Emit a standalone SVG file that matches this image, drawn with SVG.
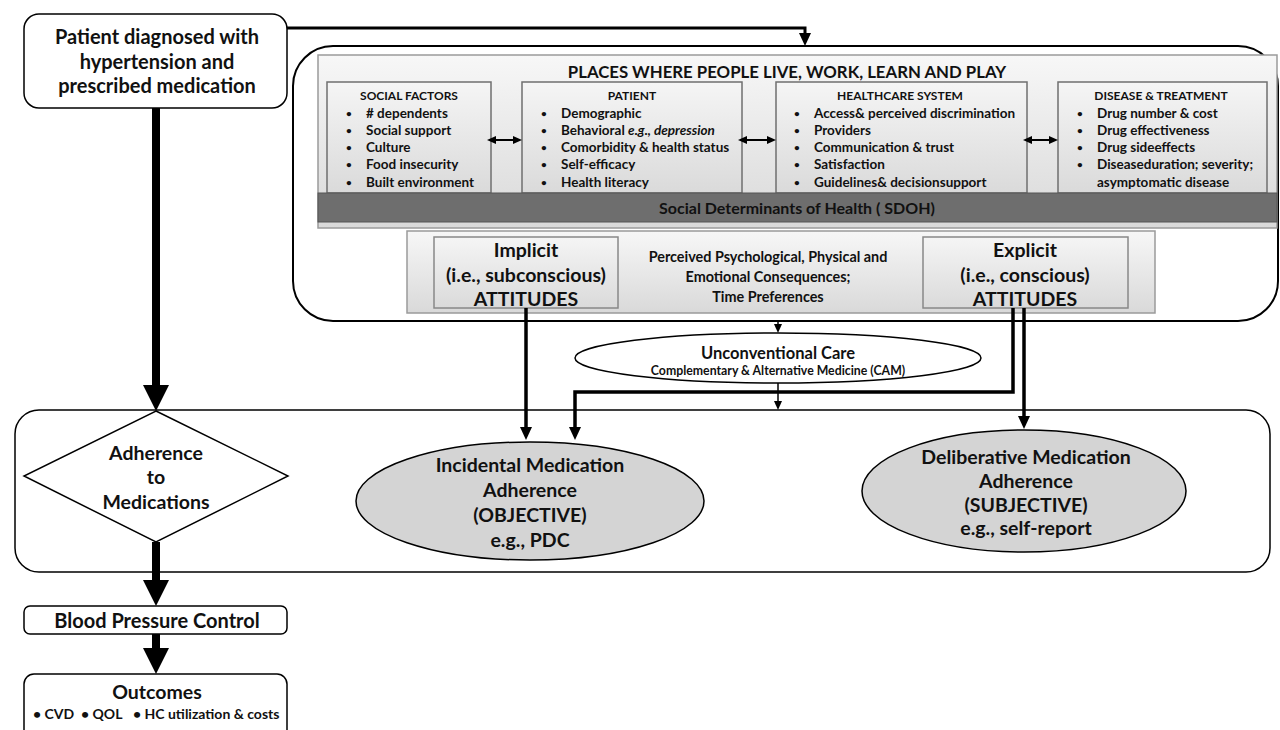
<svg xmlns="http://www.w3.org/2000/svg" width="1280" height="730" viewBox="0 0 1280 730">
<defs>
<linearGradient id="gPanel" x1="0" y1="0" x2="0" y2="1"><stop offset="0" stop-color="#f7f7f7"/><stop offset="1" stop-color="#d9d9d9"/></linearGradient>
<linearGradient id="gBox" x1="0" y1="0" x2="0" y2="1"><stop offset="0" stop-color="#f5f5f5"/><stop offset="1" stop-color="#dadada"/></linearGradient>
<marker id="ahBig" markerUnits="userSpaceOnUse" markerWidth="26" markerHeight="26" refX="0" refY="13" orient="auto" viewBox="0 0 26 26"><path d="M0,0 L26,13 L0,26 z" fill="#000"/></marker>
<marker id="ahMed" markerUnits="userSpaceOnUse" markerWidth="14" markerHeight="14" refX="0" refY="7" orient="auto" viewBox="0 0 14 14"><path d="M0,1 L13,7 L0,13 z" fill="#000"/></marker>
<marker id="ahSm" markerUnits="userSpaceOnUse" markerWidth="10" markerHeight="10" refX="0" refY="5" orient="auto" viewBox="0 0 10 10"><path d="M0,1 L9,5 L0,9 z" fill="#000"/></marker>
<marker id="ahDblS" markerUnits="userSpaceOnUse" markerWidth="10" markerHeight="10" refX="0" refY="5" orient="auto-start-reverse" viewBox="0 0 10 10"><path d="M0,1 L9,5 L0,9 z" fill="#000"/></marker>
</defs>
<style>
text{font-family:Lato,"Liberation Sans",sans-serif;font-weight:bold;fill:#111;}
.c{text-anchor:middle;}
.big{font-size:20px;}
.att{font-size:19.5px;}
.hdr{font-size:12px;}
.it{font-size:13.5px;}
.bul{font-size:10px;}
.mid{font-size:14.4px;}
.box{fill:#fff;stroke:#000;stroke-width:1.5;}
.cat{fill:url(#gBox);stroke:#6f6f6f;stroke-width:1.5;}
.ell{fill:#d4d4d4;stroke:#000;stroke-width:1.5;}
.conn{fill:none;stroke:#000;}
</style>

<!-- Containers -->
<g id="places-container">
<rect x="293" y="46" width="985" height="275" rx="40" ry="40" fill="#fff" stroke="#000" stroke-width="2"/>
<rect x="318" y="55" width="959" height="173" fill="url(#gPanel)" stroke="#9a9a9a" stroke-width="1.5"/>
<text class="c" x="787" y="78" style="font-size:16.8px">PLACES WHERE PEOPLE LIVE, WORK, LEARN AND PLAY</text>
</g>

<g id="adherence-container">
<rect x="15" y="410" width="1255" height="162" rx="24" ry="24" fill="#fff" stroke="#000" stroke-width="1.5"/>
</g>

<!-- Top-left node -->
<g id="patient-diagnosed">
<rect class="box" x="24" y="14" width="263" height="94" rx="15" ry="15"/>
<text class="c big" x="157" y="44">Patient diagnosed with</text>
<text class="c big" x="157" y="69">hypertension and</text>
<text class="c big" x="157" y="93">prescribed medication</text>
</g>

<!-- Category boxes -->
<g id="social-factors">
<rect class="cat" x="327" y="82" width="164" height="111"/>
<text class="c hdr" x="409" y="100">SOCIAL FACTORS</text>
<g>
<text class="bul" x="346" y="117">•</text><text class="it" x="366" y="118"># dependents</text>
<text class="bul" x="346" y="134">•</text><text class="it" x="366" y="135">Social support</text>
<text class="bul" x="346" y="151">•</text><text class="it" x="366" y="152">Culture</text>
<text class="bul" x="346" y="168">•</text><text class="it" x="366" y="169">Food insecurity</text>
<text class="bul" x="346" y="186">•</text><text class="it" x="366" y="187">Built environment</text>
</g>
</g>

<g id="patient">
<rect class="cat" x="522" y="82" width="220" height="111"/>
<text class="c hdr" x="632" y="100">PATIENT</text>
<g>
<text class="bul" x="541" y="117">•</text><text class="it" x="561" y="118">Demographic</text>
<text class="bul" x="541" y="134">•</text><text class="it" x="561" y="135">Behavioral <tspan font-style="italic">e.g., depression</tspan></text>
<text class="bul" x="541" y="151">•</text><text class="it" x="561" y="152">Comorbidity &amp; health status</text>
<text class="bul" x="541" y="168">•</text><text class="it" x="561" y="169">Self-efficacy</text>
<text class="bul" x="541" y="186">•</text><text class="it" x="561" y="187">Health literacy</text>
</g>
</g>

<g id="healthcare-system">
<rect class="cat" x="776" y="82" width="251" height="111"/>
<text class="c hdr" x="900" y="100">HEALTHCARE SYSTEM</text>
<g>
<text class="bul" x="794" y="117">•</text><text class="it" x="814" y="118">Access&amp; perceived discrimination</text>
<text class="bul" x="794" y="134">•</text><text class="it" x="814" y="135">Providers</text>
<text class="bul" x="794" y="151">•</text><text class="it" x="814" y="152">Communication &amp; trust</text>
<text class="bul" x="794" y="168">•</text><text class="it" x="814" y="169">Satisfaction</text>
<text class="bul" x="794" y="186">•</text><text class="it" x="814" y="187">Guidelines&amp; decisionsupport</text>
</g>
</g>

<g id="disease-treatment">
<rect class="cat" x="1058" y="82" width="209" height="111"/>
<text class="c hdr" x="1161" y="100">DISEASE &amp; TREATMENT</text>
<g>
<text class="bul" x="1077" y="117">•</text><text class="it" x="1097" y="118">Drug number &amp; cost</text>
<text class="bul" x="1077" y="134">•</text><text class="it" x="1097" y="135">Drug effectiveness</text>
<text class="bul" x="1077" y="151">•</text><text class="it" x="1097" y="152">Drug sideeffects</text>
<text class="bul" x="1077" y="168">•</text><text class="it" x="1097" y="169">Diseaseduration; severity;</text>
<text class="it" x="1097" y="187">asymptomatic disease</text>
</g>
</g>

<g id="sdoh-bar">
<rect x="318" y="193" width="959" height="29" fill="#6e6e6e" stroke="#555" stroke-width="1"/>
<text class="c" x="797" y="214" style="font-size:16px">Social Determinants of Health ( SDOH)</text>
</g>

<!-- Attitudes panel -->
<g id="attitudes-panel">
<rect x="407" y="231" width="748" height="82" fill="url(#gPanel)" stroke="#9a9a9a" stroke-width="1.5"/>
<text class="c mid" x="768" y="262">Perceived Psychological, Physical and</text>
<text class="c mid" x="768" y="282">Emotional Consequences;</text>
<text class="c mid" x="768" y="302">Time Preferences</text>
</g>

<g id="implicit-attitudes">
<rect x="434" y="237" width="184" height="71" fill="url(#gBox)" stroke="#888" stroke-width="1.5"/>
<text class="c att" x="526" y="257">Implicit</text>
<text class="c att" x="526" y="282">(i.e., subconscious)</text>
<text class="c att" x="526" y="306">ATTITUDES</text>
</g>

<g id="explicit-attitudes">
<rect x="923" y="237" width="205" height="71" fill="url(#gBox)" stroke="#888" stroke-width="1.5"/>
<text class="c att" x="1025" y="257">Explicit</text>
<text class="c att" x="1025" y="282">(i.e., conscious)</text>
<text class="c att" x="1025" y="306">ATTITUDES</text>
</g>

<g id="unconventional-care">
<ellipse cx="778" cy="358" rx="203" ry="25" fill="#fff" stroke="#000" stroke-width="1.5"/>
<text class="c" x="778" y="359" style="font-size:16.5px">Unconventional Care</text>
<text class="c" x="778" y="375" style="font-size:12.3px">Complementary &amp; Alternative Medicine (CAM)</text>
</g>

<g id="adherence-diamond">
<path d="M156,411 L288,476 L156,542 L24,476 Z" fill="#fff" stroke="#000" stroke-width="1.5"/>
<text class="c att" x="156" y="460">Adherence</text>
<text class="c att" x="156" y="484">to</text>
<text class="c att" x="156" y="509">Medications</text>
</g>

<g id="incidental-adherence">
<ellipse class="ell" cx="530" cy="501" rx="174" ry="59"/>
<text class="c att" x="530" y="472">Incidental Medication</text>
<text class="c att" x="530" y="497">Adherence</text>
<text class="c att" x="530" y="522">(OBJECTIVE)</text>
<text class="c att" x="530" y="547">e.g., PDC</text>
</g>

<g id="deliberative-adherence">
<ellipse class="ell" cx="1024" cy="491" rx="162" ry="61"/>
<text class="c att" x="1026" y="464">Deliberative Medication</text>
<text class="c att" x="1026" y="488">Adherence</text>
<text class="c att" x="1026" y="512">(SUBJECTIVE)</text>
<text class="c att" x="1026" y="535">e.g., self-report</text>
</g>

<g id="bp-control">
<rect class="box" x="24" y="606" width="263" height="28" rx="6" ry="6"/>
<text class="c" x="157" y="628" style="font-size:20px">Blood Pressure Control</text>
</g>

<g id="outcomes">
<rect class="box" x="24" y="674" width="263" height="70" rx="10" ry="10"/>
<text class="c att" x="157" y="699">Outcomes</text>
<text x="33" y="719" style="font-size:14px">• CVD</text>
<text x="81" y="719" style="font-size:14px">• QOL</text>
<text x="133" y="719" style="font-size:14px">• HC utilization &amp; costs</text>
</g>

<!-- Connectors -->
<g id="connectors">
<path class="conn" d="M287,28 H805 V33" stroke-width="3" marker-end="url(#ahMed)"/>
<path class="conn" d="M156,108 V385" stroke-width="8" marker-end="url(#ahBig)"/>
<path class="conn" d="M156,542 V580" stroke-width="8" marker-end="url(#ahBig)"/>
<path class="conn" d="M156,634 V648" stroke-width="8" marker-end="url(#ahBig)"/>
<line class="conn" x1="496" y1="140" x2="513" y2="140" stroke-width="2" marker-start="url(#ahDblS)" marker-end="url(#ahDblS)"/>
<line class="conn" x1="747" y1="140" x2="767" y2="140" stroke-width="2" marker-start="url(#ahDblS)" marker-end="url(#ahDblS)"/>
<line class="conn" x1="1032" y1="140" x2="1049" y2="140" stroke-width="2" marker-start="url(#ahDblS)" marker-end="url(#ahDblS)"/>
<path class="conn" d="M778,321 V324" stroke-width="1.5" marker-end="url(#ahSm)"/>
<path class="conn" d="M778,383 V401" stroke-width="1.5" marker-end="url(#ahSm)"/>
<path class="conn" d="M526,308 V427" stroke-width="3.5" marker-end="url(#ahMed)"/>
<path class="conn" d="M1013,308 V392 H575 V427" stroke-width="3.5" marker-end="url(#ahMed)"/>
<path class="conn" d="M1024,308 V416" stroke-width="3.5" marker-end="url(#ahMed)"/>
</g>
</svg>
